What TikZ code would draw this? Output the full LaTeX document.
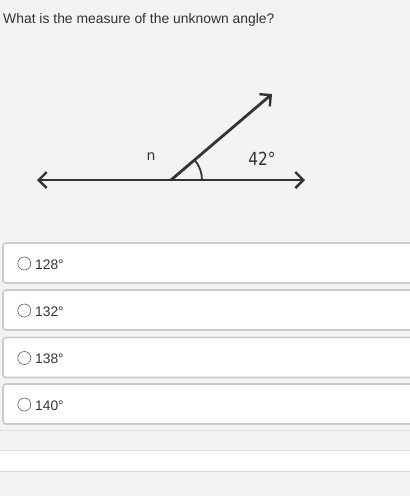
\documentclass[tikz,border=0pt]{standalone}
\usepackage{fontspec}
\setmainfont{Liberation Sans}
\newfontfamily\handfont{DejaVu Sans}
\usetikzlibrary{arrows.meta,calc}
\definecolor{bg}{HTML}{F3F3F3}
\definecolor{ink}{HTML}{333333}
\definecolor{boxline}{HTML}{CCCCCC}
\definecolor{sepline}{HTML}{DDDDDD}
\tikzset{
  chev/.tip={Straight Barb[length=8pt, width=16pt, line width=2.4pt]},
  ray/.style={draw=ink, line width=2.8pt, line cap=round},
  choice/.style={draw=boxline, line width=1.6pt, rounded corners=3pt, fill=white},
  radio/.style={circle, draw=ink!80, line width=0.6pt, minimum size=13pt, inner sep=0pt},
  ans/.style={anchor=west, font=\fontsize{13.8}{16}\selectfont, text=ink, inner sep=0pt},
  lbl/.style={font=\handfont, text=ink, inner sep=0pt}
}
\begin{document}
\begin{tikzpicture}[x=1pt, y=-1pt]
\fill[bg] (0,0) rectangle (410,496);
\useasboundingbox (0,0) rectangle (410,496);
\node[anchor=west, font=\fontsize{13.9}{16}\selectfont, text=ink, inner sep=0pt] (q) at (3,20) {What is the measure of the unknown angle?};
% figure
\coordinate (v) at (171,180);
\coordinate (l) at (37,180);
\coordinate (r) at (305,180);
\coordinate (t) at (272,94);
\draw[ray, chev-chev] (l) -- (r);
\draw[ray, -chev] (v) -- (t);
\draw[draw=ink, line width=1.8pt] ($(v)+(31,0)$) arc[start angle=0, end angle=-40.4, radius=31];
\node[lbl, font=\handfont\fontsize{14}{16}\selectfont] (n) at (151,157) {n};
\node[lbl, font=\handfont\fontsize{18}{20}\selectfont, xscale=0.85] (a) at (262,159) {42°};
% choices
\foreach \y/\txt [count=\i] in {243/128°, 290/132°, 337.5/138°, 384/140°}{
  \draw[choice] (3,\y) rectangle (420,\y+40);
  \node[radio] (r\i) at (24.3,\y+20.5) {};
  \node[ans] (t\i) at (35,\y+21.5) {\txt};
}
% bottom band
\draw[sepline, line width=0.6pt] (0,430) -- (410,430);
\fill[white] (0,450) rectangle (410,471);
\draw[sepline, line width=1pt] (0,450) -- (410,450);
\draw[sepline, line width=1pt] (0,471) -- (410,471);
\end{tikzpicture}
\end{document}
